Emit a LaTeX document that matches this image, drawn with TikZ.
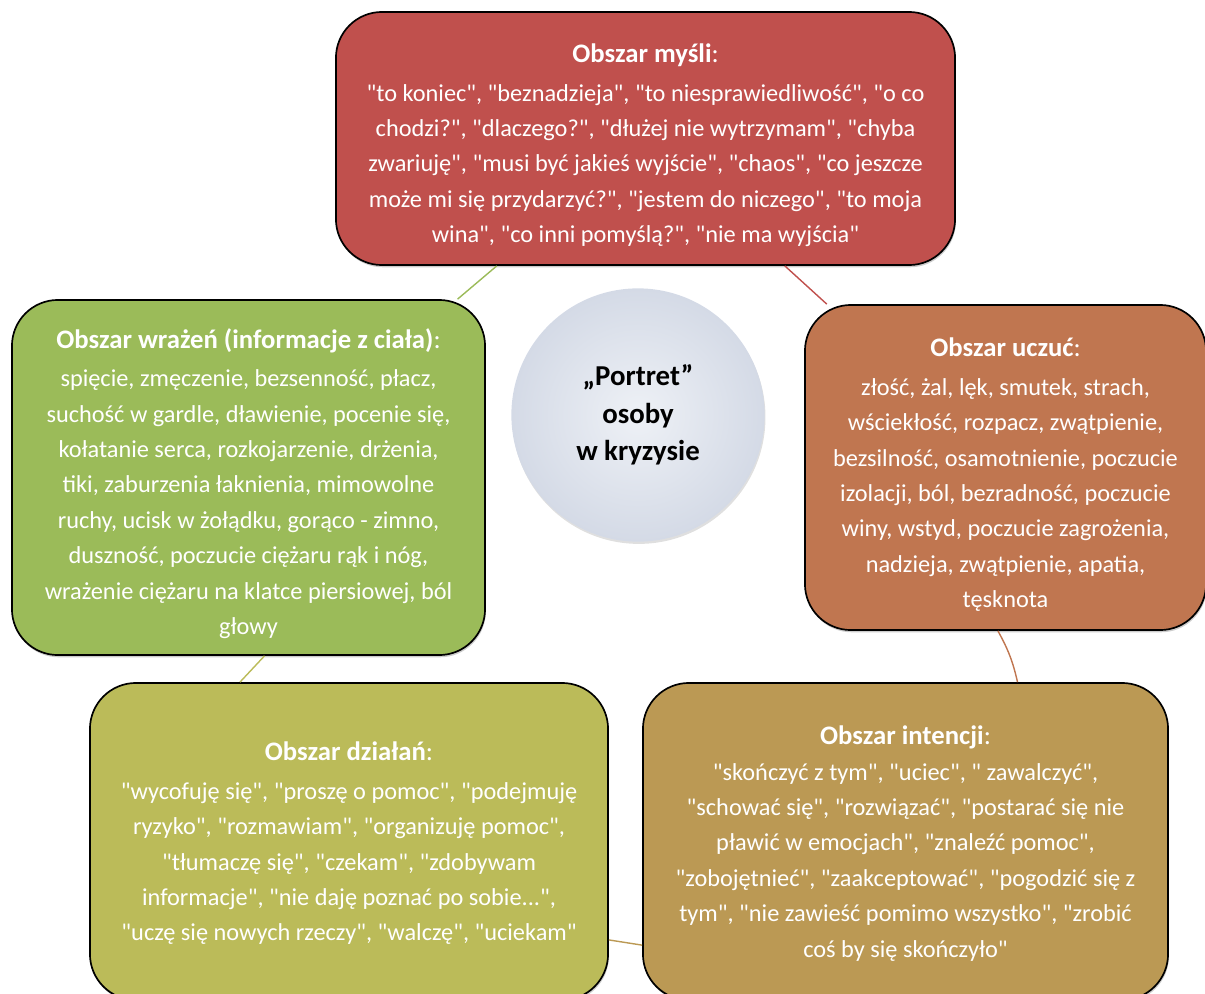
\documentclass[tikz,border=0pt]{standalone}
\usepackage{fontspec}
\setmainfont{Carlito}[Ligatures=TeXOff]
\usetikzlibrary{shadows}

\definecolor{thinkred}{RGB}{192,80,77}
\definecolor{feelorange}{RGB}{192,118,80}
\definecolor{intentgold}{RGB}{187,153,84}
\definecolor{actsolive}{RGB}{187,187,89}
\definecolor{sensgreen}{RGB}{155,187,89}
\definecolor{hubinner}{RGB}{238,241,246}
\definecolor{hubouter}{RGB}{212,218,230}

% first-line strut, pushes a text block down in its box
\newcommand{\headstrut}[1]{\rule{0pt}{#1}}
% area heading
\newcommand{\areahead}[1]{{\fontsize{19}{25.2}\selectfont\textbf{#1}:}}

\begin{document}
\begin{tikzpicture}[
  x=0.025cm, y=-0.025cm,
  area/.style={draw=black, line width=1.2pt, rounded corners=1.15cm, align=center, text=white, inner sep=0pt,
    font={\fontsize{17.3}{25.2}\selectfont},
    drop shadow={shadow xshift=0.6pt, shadow yshift=-1.6pt, opacity=0.4}},
  hub/.style={circle, minimum size=6.33cm, inner sep=0pt, align=center,
    font={\bfseries\fontsize{20.5}{26.6}\selectfont},
    inner color=hubinner, outer color=hubouter,
    drop shadow={shadow xshift=0.6pt, shadow yshift=-1.6pt, opacity=0.25}},
  link/.style={line width=1pt}
]
\useasboundingbox (0,0) rectangle (1205,994);
\clip (0,0) rectangle (1205,994);

\node[area, fill=thinkred, minimum width=15.475cm, minimum height=6.325cm] (think) at (645.5,138.5)
  {\headstrut{23.3pt}\areahead{Obszar myśli}\\[2pt]
   "to koniec", "beznadzieja", "to niesprawiedliwość", "o co\\
   chodzi?", "dlaczego?", "dłużej nie wytrzymam", "chyba\\
   zwariuję", "musi być jakieś wyjście", "chaos", "co jeszcze\\
   może mi się przydarzyć?", "jestem do niczego", "to moja\\
   wina", "co inni pomyślą?", "nie ma wyjścia"};
\node[area, fill=sensgreen, minimum width=11.825cm, minimum height=8.875cm] (sens) at (248.5,477.5)
  {\headstrut{23pt}\areahead{Obszar wrażeń (informacje z ciała)}\\[2pt]
   spięcie, zmęczenie, bezsenność, płacz,\\
   suchość w gardle, dławienie, pocenie się,\\
   kołatanie serca, rozkojarzenie, drżenia,\\
   tiki, zaburzenia łaknienia, mimowolne\\
   ruchy, ucisk w żołądku, gorąco - zimno,\\
   duszność, poczucie ciężaru rąk i nóg,\\
   wrażenie ciężaru na klatce piersiowej, ból\\
   głowy};
\node[area, fill=feelorange, minimum width=10.025cm, minimum height=8.125cm] (feel) at (1005.5,467.5)
  {\headstrut{24pt}\areahead{Obszar uczuć}\\[2pt]
   złość, żal, lęk, smutek, strach,\\
   wściekłość, rozpacz, zwątpienie,\\
   bezsilność, osamotnienie, poczucie\\
   izolacji, ból, bezradność, poczucie\\
   winy, wstyd, poczucie zagrożenia,\\
   nadzieja, zwątpienie, apatia,\\
   tęsknota};
\node[area, fill=actsolive, minimum width=12.95cm, minimum height=7.925cm] (acts) at (349,841.5)
  {\headstrut{16.2pt}\areahead{Obszar działań}\\[2pt]
   "wycofuję się", "proszę o pomoc", "podejmuję\\
   ryzyko", "rozmawiam", "organizuję pomoc",\\
   "tłumaczę się", "czekam", "zdobywam\\
   informacje", "nie daję poznać po sobie...",\\
   "uczę się nowych rzeczy", "walczę", "uciekam"};
\node[area, fill=intentgold, minimum width=13.125cm, minimum height=7.925cm] (intent) at (905.5,841.5)
  {\headstrut{16.2pt}\areahead{Obszar intencji}\\
   "skończyć z tym", "uciec", " zawalczyć",\\
   "schować się", "rozwiązać", "postarać się nie\\
   pławić w emocjach", "znaleźć pomoc",\\
   "zobojętnieć", "zaakceptować", "pogodzić się z\\
   tym", "nie zawieść pomimo wszystko", "zrobić\\
   coś by się skończyło"};
\node[hub] (portrait) at (638,415) {„Portret”\\osoby\\w kryzysie};

% cycle links
\draw[link, sensgreen] (sens) -- (think);
\draw[link, thinkred] (think) -- (feel);
\draw[link, feelorange] ([xshift=-0.19cm]feel.south) to[bend left=8] ([xshift=2.8cm]intent.north);
\draw[link, intentgold] ([yshift=-2.46cm]acts.east) -- ([yshift=-2.59cm]intent.west);
\draw[link, actsolive] ([xshift=0.4cm]sens.south) -- ([xshift=-2.725cm]acts.north);
\end{tikzpicture}
\end{document}
